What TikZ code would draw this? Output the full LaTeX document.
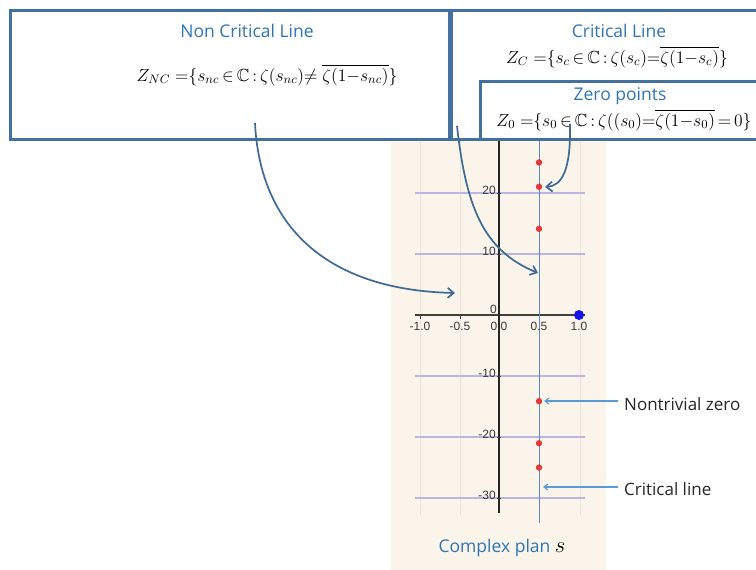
\documentclass[tikz,border=0pt]{standalone}
\usepackage{fix-cm}
\usepackage{graphicx}
\usepackage{amssymb}
\usepackage{fontspec}
\newfontfamily\hfont{Open Sans}
\newfontfamily\afont{Liberation Sans}
\usetikzlibrary{arrows.meta}
\definecolor{boxc}{HTML}{41719C}
\definecolor{headc}{HTML}{2E75B6}
\definecolor{arrc}{HTML}{3E6A96}
\definecolor{thinc}{HTML}{5B9BD5}
\definecolor{beige}{HTML}{FAF4EA}
\definecolor{hgridc}{HTML}{B9B6E4}
\definecolor{vgridc}{HTML}{E8E2D8}
\definecolor{critc}{HTML}{5A88C8}
\definecolor{zeroc}{HTML}{E23A3A}
\definecolor{onec}{HTML}{1414E6}
\definecolor{tickc}{HTML}{3A3A3A}
\newcommand{\fsc}[1]{\scalebox{1.3}{#1}}
\newcommand{\tin}{\,{\in}\,}
\newcommand{\tcol}{\,{:}\,}
\tikzset{
  panel/.style={draw=boxc, line width=3pt, fill=white},
  head/.style={font=\hfont\fontsize{17.5}{20}\selectfont, text=headc, inner sep=0pt},
  formula/.style={font=\fontsize{13.5}{16}\selectfont, inner sep=0pt},
  ticklab/.style={font=\afont\fontsize{12}{13}\selectfont, text=tickc, inner sep=0pt},
  label/.style={font=\hfont\fontsize{17}{19}\selectfont, text=black!85, inner sep=0pt, anchor=west},
  curvearrow/.style={draw=arrc, line width=1.7pt, -{Straight Barb[length=6pt,width=10pt,line width=1.7pt]}},
  thinarrow/.style={draw=thinc, line width=1.1pt, -{Straight Barb[length=4pt,width=6pt,line width=1.1pt]}},
  hgrid/.style={draw=hgridc, line width=1.1pt},
  vgrid/.style={draw=vgridc, line width=0.8pt},
}
\begin{document}
\begin{tikzpicture}[x=1pt,y=-1pt]
\useasboundingbox (0,0) rectangle (756,570);
\clip (0,0) rectangle (756,570);
\fill[white] (0,0) rectangle (756,570);
% plot background
\fill[beige] (391,141) rectangle (606,570);
\foreach \x in {420,460,580} \draw[vgrid] (\x,141) -- (\x,515);
\foreach \v in {20,10,-10,-20,-30} \draw[hgrid] (415,{315-6.1*\v}) -- (585,{315-6.1*\v});
% axes
\draw[draw=black!75, line width=1.4pt] (415,315) -- (585,315);
\foreach \x in {420,460,539,579} \draw[draw=black!75, line width=1pt] (\x,315) -- (\x,319);
\draw[draw=black!85, line width=2pt] (499,141) -- (499,513);
\foreach \v in {20,10,-10,-20,-30} \draw[draw=black!75, line width=1pt] (497,{315-6.1*\v}) -- (501,{315-6.1*\v});
% critical line
\draw[draw=critc, line width=0.9pt] (539,141) -- (539,523);
% tick labels
\node[ticklab, anchor=east] (t20) at (496,190) {20};
\node[ticklab, anchor=east] (t10) at (496,251) {10};
\node[ticklab, anchor=east] (t0) at (497,309) {0};
\node[ticklab, anchor=east] (tm10) at (496,373) {-10};
\node[ticklab, anchor=east] (tm20) at (496,434) {-20};
\node[ticklab, anchor=east] (tm30) at (496,495) {-30};
\node[ticklab] (xm1) at (420,326) {-1.0};
\node[ticklab] (xm05) at (460,326) {-0.5};
\node[ticklab] (x0) at (499,326) {0.0};
\node[ticklab] (x05) at (539,326) {0.5};
\node[ticklab] (x1) at (579,326) {1.0};
% zeros
\foreach \v/\n in {25.01/za,21.02/zb,14.13/zc,-14.13/zd,-21.02/ze,-25.01/zf}
  \fill[zeroc] (539,{315-6.1*\v}) circle (3.2pt) coordinate (\n);
\fill[onec] (579,315) circle (5pt) coordinate (one);
% panels
\draw[panel] (10,10) rectangle (449,139);
\draw[panel] (451,10) rectangle (790,139);
\draw[panel] (480,81) rectangle (790,139);
\node[head] (h1) at (247,31) {Non Critical Line};
\node[formula] (f1) at (267,75) {\fsc{$Z_{NC}\;{=}\{s_{nc}\tin\mathbb{C}\tcol\zeta(s_{nc}){\neq}\;\overline{\zeta(1{-}s_{nc})}\}$}};
\node[head] (h2) at (619,31) {Critical Line};
\node[formula] (f2) at (617,57) {\fsc{$Z_{C}\;{=}\{s_{c}\tin\mathbb{C}\tcol\zeta(s_{c}){=}\overline{\zeta(1{-}s_{c})}\}$}};
\node[head] (h3) at (620,96) {Zero points};
\node[formula] (f3) at (624,120) {\fsc{$Z_{0}\;{=}\{s_{0}\tin\mathbb{C}\tcol\zeta((s_{0}){=}\overline{\zeta(1{-}s_{0})}\,{=}\,0\}$}};
% labels
\node[head] (cp) at (502,548) {Complex plan \textcolor{black}{\fsc{$s$}}};
\node[label] (ntz) at (624,404) {Nontrivial zero};
\node[label] (cl) at (624,489) {Critical line};
% curve ends
\coordinate (s1) at (255,123);
\coordinate (e1) at (455,293);
\coordinate (s2) at (457,126);
\coordinate (e2) at (538,273);
\coordinate (s3) at (570,124);
\coordinate (e3) at (545,187);
\draw[curvearrow] (s1) .. controls (260,225) and (325,290) .. (e1);
\draw[curvearrow] (s2) .. controls (466,205) and (482,250) .. (e2);
\draw[curvearrow] (s3) .. controls (571,170) and (562,186) .. (e3);
\draw[thinarrow] (ntz.west) ++(-6,-3) coordinate (a1) -- (544,401);
\draw[thinarrow] (cl.west) ++(-6,-2) coordinate (a2) -- (543,487);
\end{tikzpicture}
\end{document}
